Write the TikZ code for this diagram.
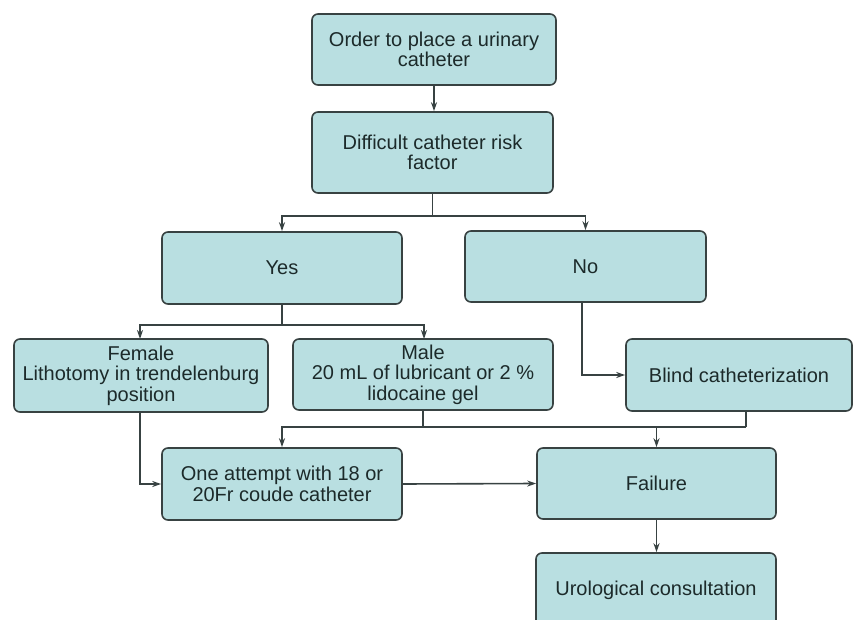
\documentclass[tikz,border=0pt]{standalone}
\usepackage{fontspec}
\setmainfont{Liberation Sans}
\usetikzlibrary{arrows.meta,calc}
\definecolor{boxfill}{HTML}{B9DFE1}
\definecolor{boxline}{HTML}{384242}
\definecolor{txt}{HTML}{1C2A2A}
\tikzset{
  flowbox/.style={draw=boxline, fill=boxfill, line width=1.6pt, rounded corners=6pt,
    text=txt, align=center, inner sep=0pt, font=\fontsize{20}{20.5}\selectfont},
  conn/.style={draw=boxline, line width=1.6pt},
  arr/.style={conn, -{Stealth[length=9pt,width=6pt]}}
}
\begin{document}
\begin{tikzpicture}[x=1pt,y=-1pt]
\useasboundingbox (0,0) rectangle (854,620);
\fill[white] (0,0) rectangle (854,620);
\clip (0,0) rectangle (854,620);
\node[flowbox, minimum width=244pt, minimum height=71pt] (o1) at (434,49.5) {Order to place a urinary\\catheter};
\node[flowbox, minimum width=241pt, minimum height=81pt] (o2) at (432.5,152.5) {Difficult catheter risk\\factor};
\node[flowbox, minimum width=240pt, minimum height=72pt] (yes) at (282,268) {Yes};
\node[flowbox, minimum width=241pt, minimum height=71pt] (no) at (585.5,266.5) {No};
\node[flowbox, minimum width=254pt, minimum height=73pt] (fem) at (141,375.5) {Female\\Lithotomy in trendelenburg\\position};
\node[flowbox, minimum width=260pt, minimum height=71pt] (male) at (423,374.5) {Male\\20 mL of lubricant or 2 \%\\lidocaine gel};
\node[flowbox, minimum width=226pt, minimum height=72pt] (blind) at (739,375) {Blind catheterization};
\node[flowbox, minimum width=240pt, minimum height=72pt] (one) at (282,484) {One attempt with 18 or\\20Fr coude catheter};
\node[flowbox, minimum width=239pt, minimum height=71pt] (fail) at (656.5,483.5) {Failure};
\node[flowbox, minimum width=240pt, minimum height=74pt] (uro) at (656,590) {Urological consultation};

% connectors
\draw[arr] (o1.south) -- (o1.south |- o2.north);
\coordinate (j1) at (432.5,216);
\draw[conn] (o2.south) -- (j1);
\draw[arr] (j1) -| (yes.north);
\draw[arr] (j1) -| (no.north);
\coordinate (j2) at (282,325);
\draw[conn] (yes.south) -- (j2);
\coordinate (fmtop) at (140,339);
\coordinate (mltop) at (424,339);
\draw[arr] (j2) -| (mltop);
\draw[arr] (j2) -| (fmtop);
\coordinate (nb) at (582,302);
\draw[arr] (nb) |- (blind.west);
\coordinate (mb) at (423,410);
\coordinate (bb) at (746,411);
\coordinate (j3) at (423,427);
\coordinate (j4) at (746,427);
\draw[conn] (mb) -- (j3);
\draw[conn] (bb) -- (j4);
\draw[arr] (j4) -| (one.north);
\draw[arr] (j3) -| (fail.north);
\coordinate (fb) at (140,412);
\draw[arr] (fb) |- (one.west);
\draw[arr] (one.east) -- (fail.west);
\draw[arr] (fail.south) -- (fail.south |- uro.north);
\end{tikzpicture}
\end{document}
